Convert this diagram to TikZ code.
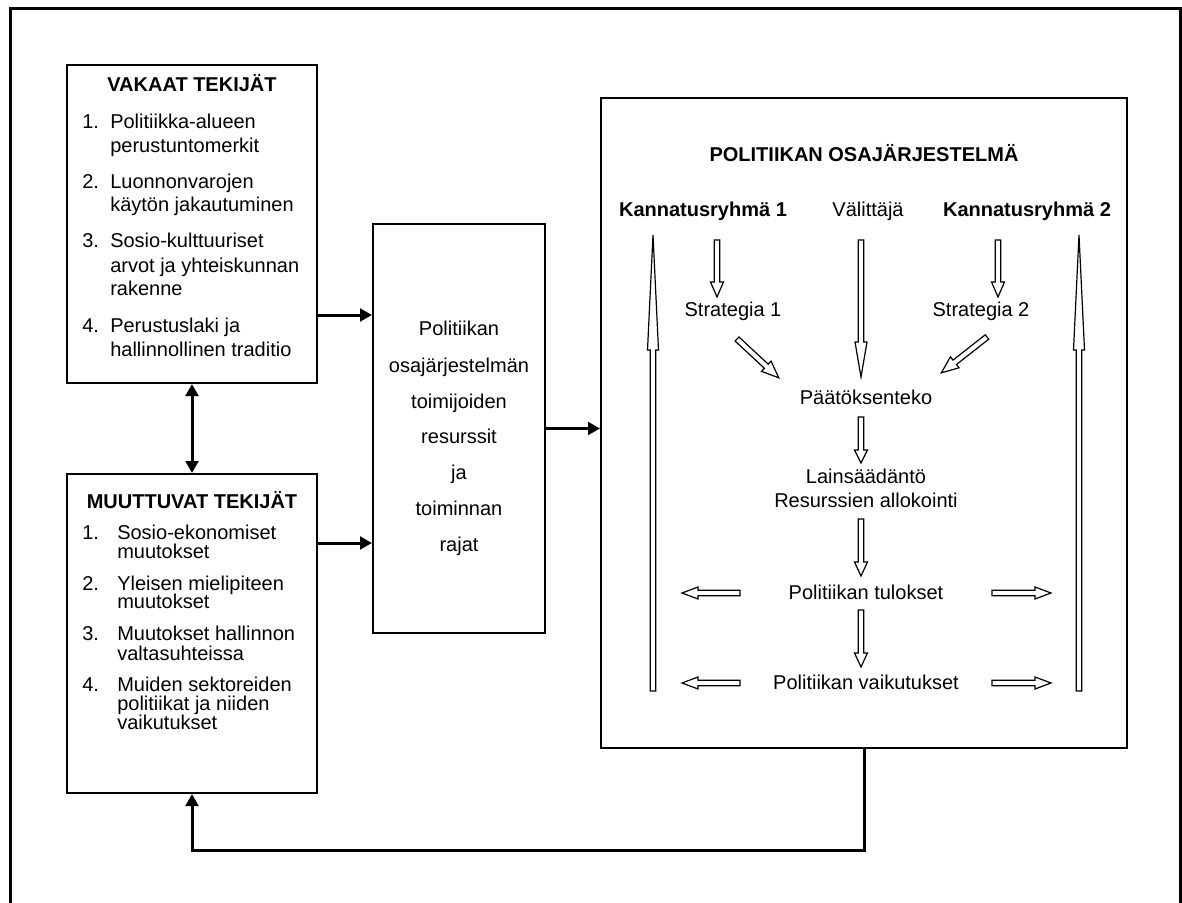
\documentclass[tikz,border=0pt]{standalone}
\usepackage{fontspec}
\setmainfont{Liberation Sans}
\usetikzlibrary{arrows.meta}
\newcommand\fsz{\fontsize{15pt}{18pt}\selectfont}
% block (hollow) arrow: x, y, angle, length, head length, head half width
\newcommand\blockarrow[6]{%
  \draw[hollowarr,shift={(#1,#2)},rotate=#3]
    (0,-2.8) -- ({#4-#5},-2.8) -- ({#4-#5},-#6) -- (#4,0) --
    ({#4-#5},#6) -- ({#4-#5},2.8) -- (0,2.8) -- cycle;}
\begin{document}
\begin{tikzpicture}[x=0.75pt,y=-0.75pt,
  box/.style={draw,line width=1.5pt,inner sep=0pt},
  txt/.style={inner sep=0pt,text height=11.5pt,text depth=2.5pt,font=\fsz},
  btxt/.style={txt,font=\fsz\bfseries},
  lt/.style={txt,anchor=west},
  tipA/.tip={Triangle[length=9pt,width=9.5pt]},
  conn/.style={line width=2.25pt,-tipA},
  hollowarr/.style={draw,line width=0.9pt,fill=white,line join=miter}]
\useasboundingbox (0,0) rectangle (1182,903);
% outer frame (open at the bottom)
\draw[line width=2.25pt] (10,910) -- (10,8) -- (1180,8) -- (1180,910);

% boxes
\node[box,minimum width=187.5pt,minimum height=238.5pt] (vak) at (192,224) {};
\node[box,minimum width=187.5pt,minimum height=239.25pt] (muu) at (192,633.5) {};
\node[box,minimum width=129pt,minimum height=306.75pt] (mid) at (459,428.5) {};
\node[box,minimum width=394.5pt,minimum height=487.5pt] (pol) at (864,423) {};

% VAKAAT TEKIJAT
\node[btxt] (vakt) at (192,85) {VAKAAT TEKIJÄT};
\node[lt] (v1n) at (82,122) {1.};
\node[lt] (v1a) at (110,122) {Politiikka-alueen};
\node[lt] (v1b) at (110,146) {perustuntomerkit};
\node[lt] (v2n) at (82,182) {2.};
\node[lt] (v2a) at (110,182) {Luonnonvarojen};
\node[lt] (v2b) at (110,205) {käytön jakautuminen};
\node[lt] (v3n) at (82,241) {3.};
\node[lt] (v3a) at (110,241) {Sosio-kulttuuriset};
\node[lt] (v3b) at (110,266) {arvot ja yhteiskunnan};
\node[lt] (v3c) at (110,289) {rakenne};
\node[lt] (v4n) at (82,326) {4.};
\node[lt] (v4a) at (110,326) {Perustuslaki ja};
\node[lt] (v4b) at (110,350) {hallinnollinen traditio};

% MUUTTUVAT TEKIJAT
\node[btxt] (muut) at (192,502) {MUUTTUVAT TEKIJÄT};
\node[lt] (m1n) at (82,533) {1.};
\node[lt] (m1a) at (117,533) {Sosio-ekonomiset};
\node[lt] (m1b) at (117,552) {muutokset};
\node[lt] (m2n) at (82,584) {2.};
\node[lt] (m2a) at (117,584) {Yleisen mielipiteen};
\node[lt] (m2b) at (117,602) {muutokset};
\node[lt] (m3n) at (82,634) {3.};
\node[lt] (m3a) at (117,634) {Muutokset hallinnon};
\node[lt] (m3b) at (117,654) {valtasuhteissa};
\node[lt] (m4n) at (82,685) {4.};
\node[lt] (m4a) at (117,685) {Muiden sektoreiden};
\node[lt] (m4b) at (117,704) {politiikat ja niiden};
\node[lt] (m4c) at (117,723) {vaikutukset};

% middle box
\node[txt] (c1) at (459,329) {Politiikan};
\node[txt] (c2) at (459,366) {osajärjestelmän};
\node[txt] (c3) at (459,402) {toimijoiden};
\node[txt] (c4) at (459,437) {resurssit};
\node[txt] (c5) at (459,473) {ja};
\node[txt] (c6) at (459,509) {toiminnan};
\node[txt] (c7) at (459,545) {rajat};

% right box
\node[btxt] (ptit) at (864,155) {POLITIIKAN OSAJÄRJESTELMÄ};
\node[btxt] (k1) at (703,210) {Kannatusryhmä 1};
\node[txt] (val) at (868,210) {Välittäjä};
\node[btxt] (k2) at (1027,210) {Kannatusryhmä 2};
\node[txt] (s1) at (733,310) {Strategia 1};
\node[txt] (s2) at (981,310) {Strategia 2};
\node[txt] (paat) at (866,398) {Päätöksenteko};
\node[txt] (lain) at (866,477) {Lainsäädäntö};
\node[txt] (res) at (866,501) {Resurssien allokointi};
\node[txt] (tul) at (866,593) {Politiikan tulokset};
\node[txt] (vaik) at (866,683) {Politiikan vaikutukset};

% hollow arrows
\blockarrow{717}{240}{-90}{57}{15}{6.5}
\blockarrow{998}{240}{-90}{57}{15}{6.5}
\blockarrow{861}{240}{-90}{137}{35}{6}
\blockarrow{737}{339}{-42.9}{57}{17}{7}
\blockarrow{987}{337}{-141.9}{58}{17}{7}
\blockarrow{861}{417}{-90}{46}{13}{6.5}
\blockarrow{861}{519}{-90}{57}{14}{6.5}
\blockarrow{861}{610}{-90}{57}{14}{6.5}
\blockarrow{740}{593}{180}{58}{16}{6}
\blockarrow{992}{593}{0}{59}{16}{6}
\blockarrow{740}{683}{180}{58}{16}{6}
\blockarrow{992}{683}{0}{59}{16}{6}
\blockarrow{653}{691}{90}{456}{115}{5.5}
\blockarrow{1079}{691}{90}{456}{115}{5.5}

% connectors
\coordinate (ya) at (0,315);
\coordinate (yb) at (0,543);
\coordinate (fb) at (192,850);
\draw[line width=2.25pt,tipA-tipA] (vak.south) -- (muu.north);
\draw[conn] (vak.east |- ya) -- (mid.west |- ya);
\draw[conn] (muu.east |- yb) -- (mid.west |- yb);
\draw[conn] (mid.east) -- (pol.west |- mid.east);
\draw[conn] (pol.south) |- (fb) -- (muu.south);
\end{tikzpicture}
\end{document}
